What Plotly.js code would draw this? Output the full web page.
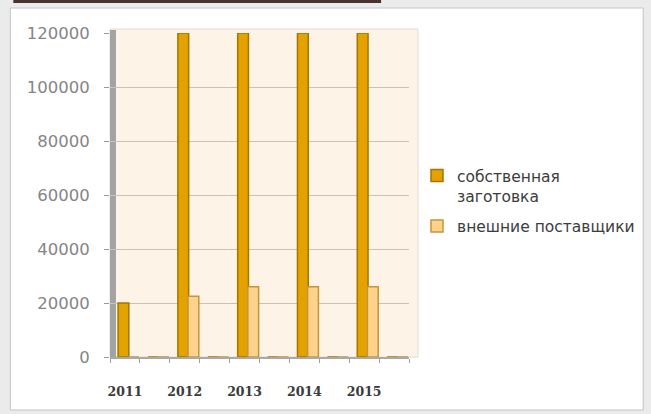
<!DOCTYPE html>
<html>
<head>
<meta charset="utf-8">
<script src="https://cdn.plot.ly/plotly-3.0.1.min.js"></script>
<style>html,body{margin:0;padding:0;background:#ebebeb;}#chart{width:651px;height:414px;}</style>
</head>
<body>
<div id="chart"></div>
<script>
// category slots (every other slot is an unlabeled empty row)
var categories = ['2011', '', '2012', '', '2013', '', '2014', '', '2015', ''];
var seriesNames = ['собственная<br>заготовка', 'внешние поставщики'];
var ownValues = [20000, 0, 120000, 0, 120000, 0, 120000, 0, 120000, 0];
var extValues = [0, 0, 22500, 0, 26000, 0, 26000, 0, 26000, 0];
var yTicks = [0, 20000, 40000, 60000, 80000, 100000, 120000];

var slots = categories.map(function (c, i) { return i; });
var labeledSlots = slots.filter(function (i) { return categories[i] !== ''; });
var labeledText = labeledSlots.map(function (i) { return categories[i]; });

var traces = [
  {
    type: 'bar', name: seriesNames[0], x: slots, y: ownValues, legendgroup: 'a',
    width: 0.36, offset: -0.23,
    marker: { color: '#e3a200', line: { color: '#a47600', width: 1.5 } },
    hoverinfo: 'y'
  },
  {
    type: 'bar', name: seriesNames[1], x: slots, y: extValues, legendgroup: 'b',
    width: 0.36, offset: 0.11,
    marker: { color: '#ffd28c', line: { color: '#c4963a', width: 1.5 } },
    hoverinfo: 'y'
  }
];

function px(xp) { return (xp - 110) / 300; }
function py(yp) { return (357 - yp) / 324; }

var layout = {
  width: 651, height: 414,
  margin: { l: 110, r: 241, t: 33, b: 57 },
  paper_bgcolor: '#ebebeb',
  plot_bgcolor: '#fdf3e6',
  showlegend: true,
  barmode: 'overlay',
  xaxis: {
    range: [-0.5, categories.length - 0.5],
    tickmode: 'array', tickvals: labeledSlots, ticktext: labeledText,
    ticks: '', showgrid: false, zeroline: false,
    showline: true, linecolor: '#a9a9a9', linewidth: 2,
    ticklabelstandoff: 22,
    tickfont: { family: 'DejaVu Serif', size: 12.5, color: '#3a3a3a', weight: 'bold' },
    minor: { tickmode: 'linear', tick0: -0.5, dtick: 1, ticks: 'outside', ticklen: 4, tickcolor: '#a0a0a0', showgrid: false }
  },
  yaxis: {
    range: [0, 120000], tickmode: 'array', tickvals: yTicks,
    ticktext: yTicks.map(String),
    ticks: 'outside', ticklen: 5, tickcolor: '#9a9a9a',
    showgrid: true, gridcolor: '#cbc1b4', gridwidth: 1,
    zeroline: false, showline: false,
    ticklabelstandoff: 11,
    tickfont: { family: 'DejaVu Sans', size: 16.5, color: '#858585' }
  },
  legend: {
    x: px(417), y: py(159), xanchor: 'left', yanchor: 'top',
    bgcolor: 'rgba(0,0,0,0)', valign: 'top',
    font: { family: 'DejaVu Sans', size: 15.5, color: '#3c3c3c' },
    tracegroupgap: 7
  },
  shapes: [
    { type: 'rect', xref: 'paper', yref: 'paper', layer: 'below',
      x0: px(10), x1: px(645), y0: py(410), y1: py(8),
      fillcolor: '#ffffff', line: { color: '#c4c4c4', width: 1 } },
    { type: 'rect', xref: 'paper', yref: 'paper', layer: 'below',
      x0: px(13), x1: px(382), y0: py(3), y1: py(-2),
      fillcolor: '#4a3131', line: { width: 0 } },
    { type: 'rect', xref: 'paper', yref: 'paper', layer: 'below',
      x0: px(110), x1: px(419), y0: py(357), y1: py(29),
      fillcolor: '#fdf3e6', line: { color: '#e2dcd4', width: 1 } },
    { type: 'rect', xref: 'paper', yref: 'paper', layer: 'between',
      x0: px(110), x1: px(116), y0: py(358), y1: py(30),
      fillcolor: '#a3a3a3', line: { width: 0 } }
  ]
};

Plotly.newPlot('chart', traces, layout, { displayModeBar: false, staticPlot: true });
</script>
</body>
</html>
